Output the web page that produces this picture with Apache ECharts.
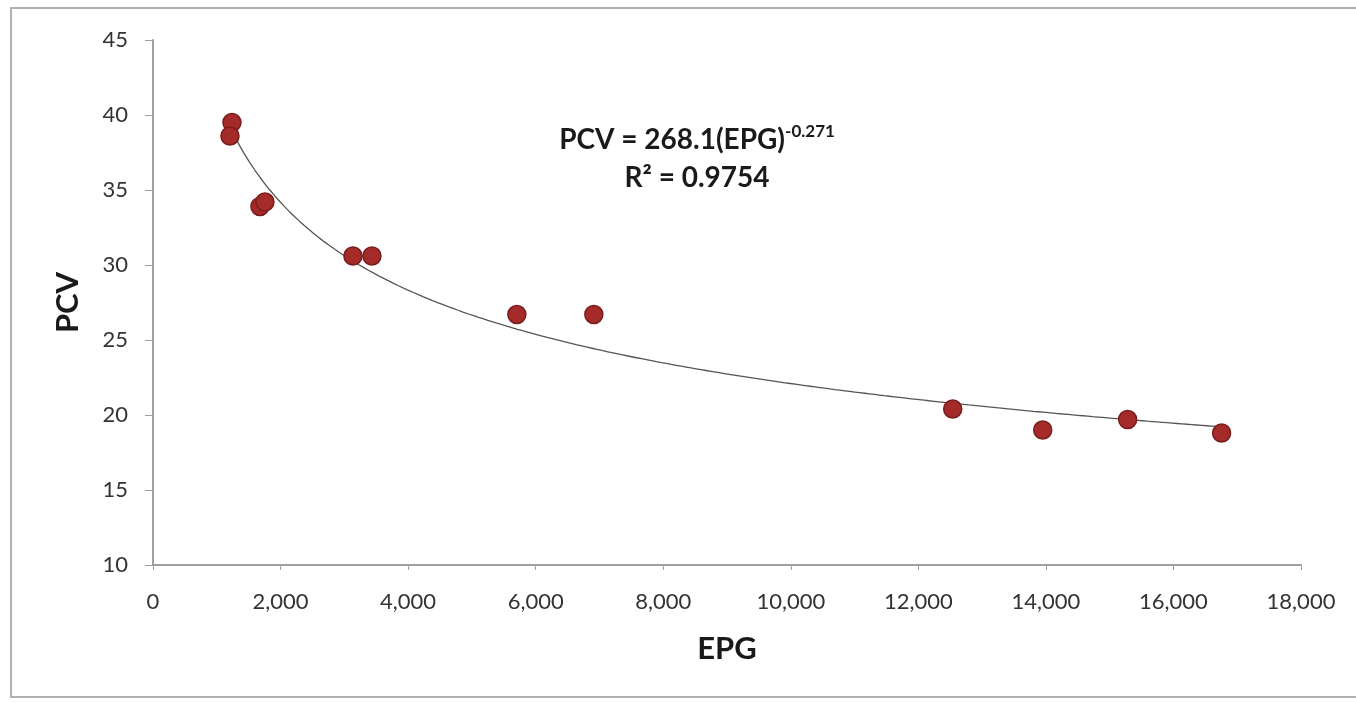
<!DOCTYPE html>
<html>
<head>
<meta charset="utf-8">
<script src="https://cdn.jsdelivr.net/npm/echarts@6/dist/echarts.min.js"></script>
<style>
  html, body { margin: 0; padding: 0; background: #fff; }
  #main { width: 1356px; height: 703px; }
</style>
</head>
<body>
<div id="main"></div>
<script>
// data
var epg = [1238, 1207, 1677, 1755, 3135, 3433, 5705, 6912, 12539, 13950, 15282, 16755];
var pcv = [39.5, 38.6, 33.9, 34.2, 30.6, 30.6, 26.7, 26.7, 20.4, 19.0, 19.7, 18.8];
// trendline as printed on the chart: PCV = 268.1(EPG)^-0.271
var fitA = 268.1;
var fitB = -0.271;
var fitR2 = '0.9754';

var points = [];
for (var i = 0; i < epg.length; i++) {
    points.push([epg[i], pcv[i]]);
}
// trendline from min to max EPG
var minX = Math.min.apply(null, epg);
var maxX = Math.max.apply(null, epg);
var trend = [];
for (var k = 0; k <= 200; k++) {
    var x = minX + (maxX - minX) * k / 200;
    trend.push([x, fitA * Math.pow(x, fitB)]);
}

var font = 'Lato, "Open Sans", sans-serif';
var myChart = echarts.init(document.getElementById('main'));
var option = {
    animation: false,
    grid: { left: 153, right: 55, top: 40, bottom: 138 },
    graphic: [
        {
            type: 'rect',
            shape: { x: 11, y: 8, width: 1400, height: 689 },
            style: { fill: 'none', stroke: '#b0b0b0', lineWidth: 2 }
        },
        {
            type: 'text',
            style: {
                text: 'PCV = 268.1(EPG){sup|-0.271}',
                x: 697, y: 140, align: 'center', verticalAlign: 'middle',
                font: 'bold 28px ' + font, fill: '#1a1a1a',
                rich: { sup: { font: 'bold 17px ' + font, fill: '#1a1a1a', verticalAlign: 'top', padding: [0, 0, 16, 0] } }
            }
        },
        {
            type: 'text',
            style: {
                text: 'R² = ' + fitR2,
                x: 697, y: 178, align: 'center', verticalAlign: 'middle',
                font: 'bold 28px ' + font, fill: '#1a1a1a'
            }
        }
    ],
    xAxis: {
        type: 'value', min: 0, max: 18000, interval: 2000,
        name: 'EPG', nameLocation: 'middle', nameGap: 68,
        nameTextStyle: { fontFamily: font, fontWeight: 'bold', fontSize: 31, color: '#1a1a1a' },
        axisLine: { show: true, lineStyle: { color: '#a0a0a0', width: 2 } },
        axisTick: { show: true, length: 5, lineStyle: { color: '#a0a0a0' } },
        splitLine: { show: false },
        axisLabel: {
            margin: 26, fontFamily: font, fontSize: 22, color: '#333',
            formatter: function (v) { return v.toLocaleString('en-US'); }
        }
    },
    yAxis: {
        type: 'value', min: 10, max: 45, interval: 5,
        name: 'PCV', nameLocation: 'middle', nameGap: 70, nameRotate: 90,
        nameTextStyle: { fontFamily: font, fontWeight: 'bold', fontSize: 31, color: '#1a1a1a' },
        axisLine: { show: true, lineStyle: { color: '#a0a0a0', width: 2 } },
        axisTick: { show: true, length: 8, lineStyle: { color: '#a0a0a0' } },
        splitLine: { show: false },
        axisLabel: { margin: 25, fontFamily: font, fontSize: 22, color: '#333' }
    },
    series: [
        {
            name: 'trend',
            type: 'line',
            data: trend,
            showSymbol: false,
            smooth: false,
            lineStyle: { color: '#555', width: 1.3 },
            z: 2
        },
        {
            name: 'PCV',
            type: 'scatter',
            data: points,
            symbolSize: 18,
            itemStyle: { color: '#a52a2a', borderColor: '#7a1d1d', borderWidth: 1.5, opacity: 1 },
            z: 3
        }
    ]
};
myChart.setOption(option);
</script>
</body>
</html>
